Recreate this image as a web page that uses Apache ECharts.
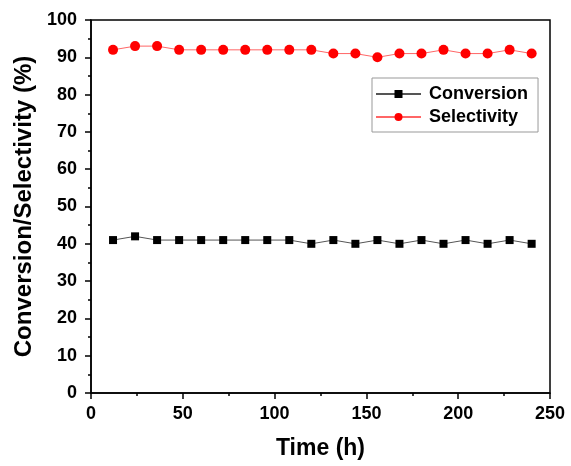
<!DOCTYPE html>
<html><head><meta charset="utf-8">
<script src="https://cdn.jsdelivr.net/npm/echarts@6/dist/echarts.min.js"></script>
<style>html,body{margin:0;padding:0;background:#fff}#c{width:571px;height:466px}</style>
</head><body><div id="c"></div>
<script>
const timeH = [12,24,36,48,60,72,84,96,108,120,132,144,156,168,180,192,204,216,228,240];
const conversion = [41,42,41,41,41,41,41,41,41,40,41,40,41,40,41,40,41,40,41,40];
const selectivity = [92,93,93,92,92,92,92,92,92,92,91,91,90,91,91,92,91,91,92,91];
const xTicks = [0,50,100,150,200,250];
const yTicks = [0,10,20,30,40,50,60,70,80,90,100];

const font = 'Liberation Sans, Arial, sans-serif';
const chart = echarts.init(document.getElementById('c'));
const pair = (xs, ys) => xs.map((x, i) => [x, ys[i]]);
chart.setOption({
  animation: false,
  grid: {left: 91, right: 21, top: 20, bottom: 73, show: true, borderColor: '#000', borderWidth: 1.5},
  legend: {
    left: 372, top: 78, orient: 'vertical',
    backgroundColor: '#fff', borderColor: '#999', borderWidth: 1,
    padding: [7, 10, 6, 3], itemGap: 5, itemWidth: 45, itemHeight: 10,
    textStyle: {fontFamily: font, fontWeight: 'bold', fontSize: 18, color: '#000', padding: [0, 0, 0, 3]},
    data: ['Conversion', 'Selectivity']
  },
  xAxis: {
    type: 'value', min: xTicks[0], max: xTicks[xTicks.length - 1], interval: 50,
    name: 'Time (h)', nameLocation: 'middle', nameGap: 44,
    nameTextStyle: {fontFamily: font, fontWeight: 'bold', fontSize: 23, color: '#000'},
    axisLine: {lineStyle: {color: '#000', width: 1.5}},
    axisTick: {show: true, length: 6, lineStyle: {color: '#000', width: 1.5}},
    minorTick: {show: true, splitNumber: 2, length: 3, lineStyle: {color: '#000', width: 1.5}},
    axisLabel: {fontFamily: font, fontWeight: 'bold', fontSize: 18, color: '#000', margin: 12},
    splitLine: {show: false}
  },
  yAxis: {
    type: 'value', min: yTicks[0], max: yTicks[yTicks.length - 1], interval: 10,
    name: 'Conversion/Selectivity (%)', nameLocation: 'middle', nameGap: 55,
    nameTextStyle: {fontFamily: font, fontWeight: 'bold', fontSize: 24, color: '#000'},
    axisLine: {lineStyle: {color: '#000', width: 1.5}},
    axisTick: {show: true, length: 6, lineStyle: {color: '#000', width: 1.5}},
    minorTick: {show: true, splitNumber: 2, length: 3, lineStyle: {color: '#000', width: 1.5}},
    axisLabel: {fontFamily: font, fontWeight: 'bold', fontSize: 18, color: '#000', margin: 14},
    splitLine: {show: false}
  },
  series: [
    {name: 'Conversion', type: 'line', data: pair(timeH, conversion),
     symbol: 'rect', symbolSize: 8, itemStyle: {color: '#000'},
     lineStyle: {color: '#555', width: 1}},
    {name: 'Selectivity', type: 'line', data: pair(timeH, selectivity),
     symbol: 'circle', symbolSize: 10, itemStyle: {color: '#ff0000'},
     lineStyle: {color: '#ff6666', width: 1}}
  ]
});
</script></body></html>
